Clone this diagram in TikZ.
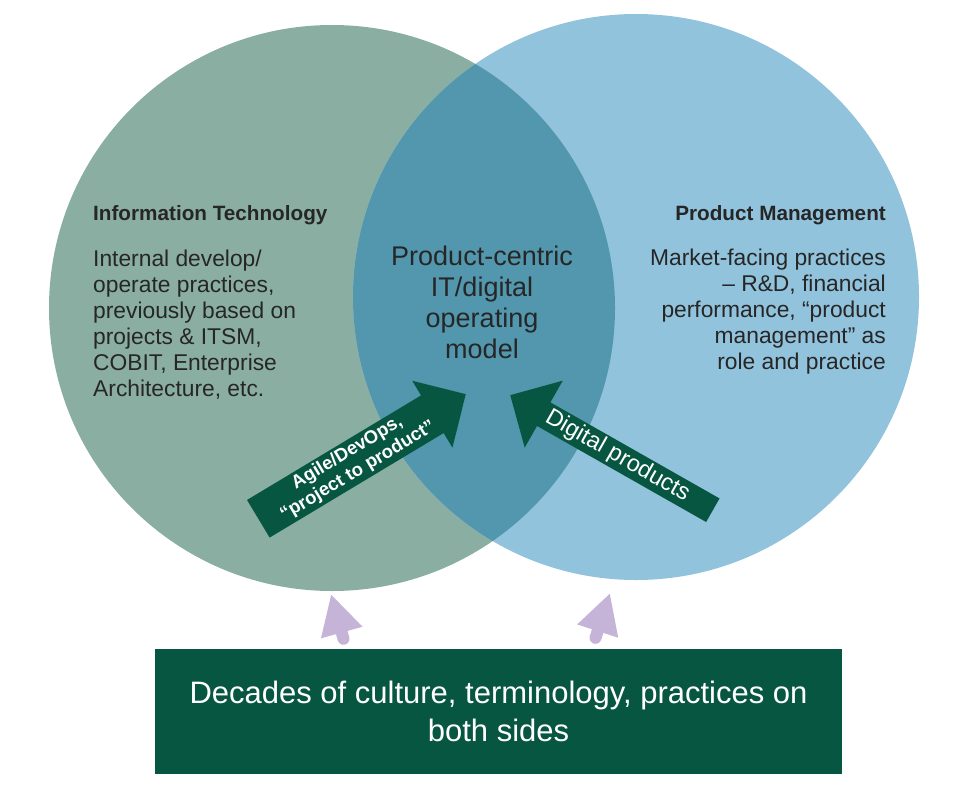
\documentclass[tikz,border=0pt]{standalone}
\usepackage{fontspec}
\setmainfont{Liberation Sans}
\usetikzlibrary{positioning, arrows, arrows.meta}
\usetikzlibrary{shapes}
\definecolor{itgreen}{HTML}{8AAFA2}
\definecolor{pmblue}{HTML}{92C3DC}
\definecolor{bothblue}{HTML}{5297AD}
\definecolor{deepgreen}{HTML}{075641}
\definecolor{lilac}{HTML}{C5B4D8}
\definecolor{inktext}{HTML}{262626}
\tikzset{
    venn/.style={circle, minimum size=566pt, inner sep=0pt},
    heading/.style={text=inktext, font=\bfseries\fontsize{20.7}{24}\selectfont},
    sidetext/.style={text=inktext, font=\fontsize{22.8}{26}\selectfont},
    bigarrow/.style={single arrow, fill=deepgreen, text=white, align=center, anchor=tip},
    push/.style={lilac, line width=12pt, line cap=round, -{Triangle[width=40pt,length=40pt]}},
  }

\begin{document}
\begin{tikzpicture}[x=1pt,y=-1pt,every node/.style={inner sep=0pt}]
	    \useasboundingbox (0,0) rectangle (957,800);
	    % the two circles and their overlap
		    \node[venn, fill=itgreen] (it) at (332,308) {};
		    \node[venn, fill=pmblue] (pm) at (636,297) {};
		    \begin{scope}
		    \clip (it.center) circle (283pt);
		    \fill[bothblue] (pm.center) circle (283pt);
		    \end{scope}
	    % create the texts
		    \node[heading, anchor=base west] (ithead) at (93,220) {Information Technology};
		    \node[sidetext, align=left, below right=30pt and 0pt of ithead.base west] (itbody) {Internal develop/\\operate practices,\\previously based on\\projects \& ITSM,\\COBIT, Enterprise\\Architecture, etc.};
		    \node[heading, anchor=base east] (pmhead) at (886,220) {Product Management};
		    \node[sidetext, align=right, below left=29pt and 0pt of pmhead.base east] (pmbody) {Market-facing practices\\– R\&D, financial\\performance, “product\\management” as\\role and practice};
		    \node[text=inktext, align=center, anchor=north, font=\fontsize{27}{31}\selectfont] (model) at (482,245.5) {Product-centric\\IT/digital\\operating\\model};
	    % the two big arrows, placed by their tips
		    \node[bigarrow, rotate=31, minimum height=242pt, minimum width=78pt, single arrow head extend=15pt, font=\bfseries\fontsize{18.5}{21}\selectfont] (agile) at (466,394) {Agile/DevOps,\\“project to product”};
		    \node[bigarrow, shape border rotate=180, rotate=-29.6, minimum height=233pt, minimum width=77pt, single arrow head extend=20.5pt, font=\fontsize{23.5}{27}\selectfont] (digital) at (510,395) {Digital products};
	    % the box below
		    \node[fill=deepgreen, text=white, minimum width=687pt, minimum height=125pt, align=center, font=\fontsize{31}{38}\selectfont] (decades) at (498.5,711.5) {Decades of culture, terminology, practices on\\both sides};
		    \coordinate (itpush) at (331,594);
		    \coordinate (pmpush) at (610,593);
		    \draw[push] ([xshift=-155pt,yshift=10pt]decades.north) -- (itpush);
		    \draw[push] ([xshift=97pt,yshift=11pt]decades.north) -- (pmpush);
		\end{tikzpicture}
\end{document}
